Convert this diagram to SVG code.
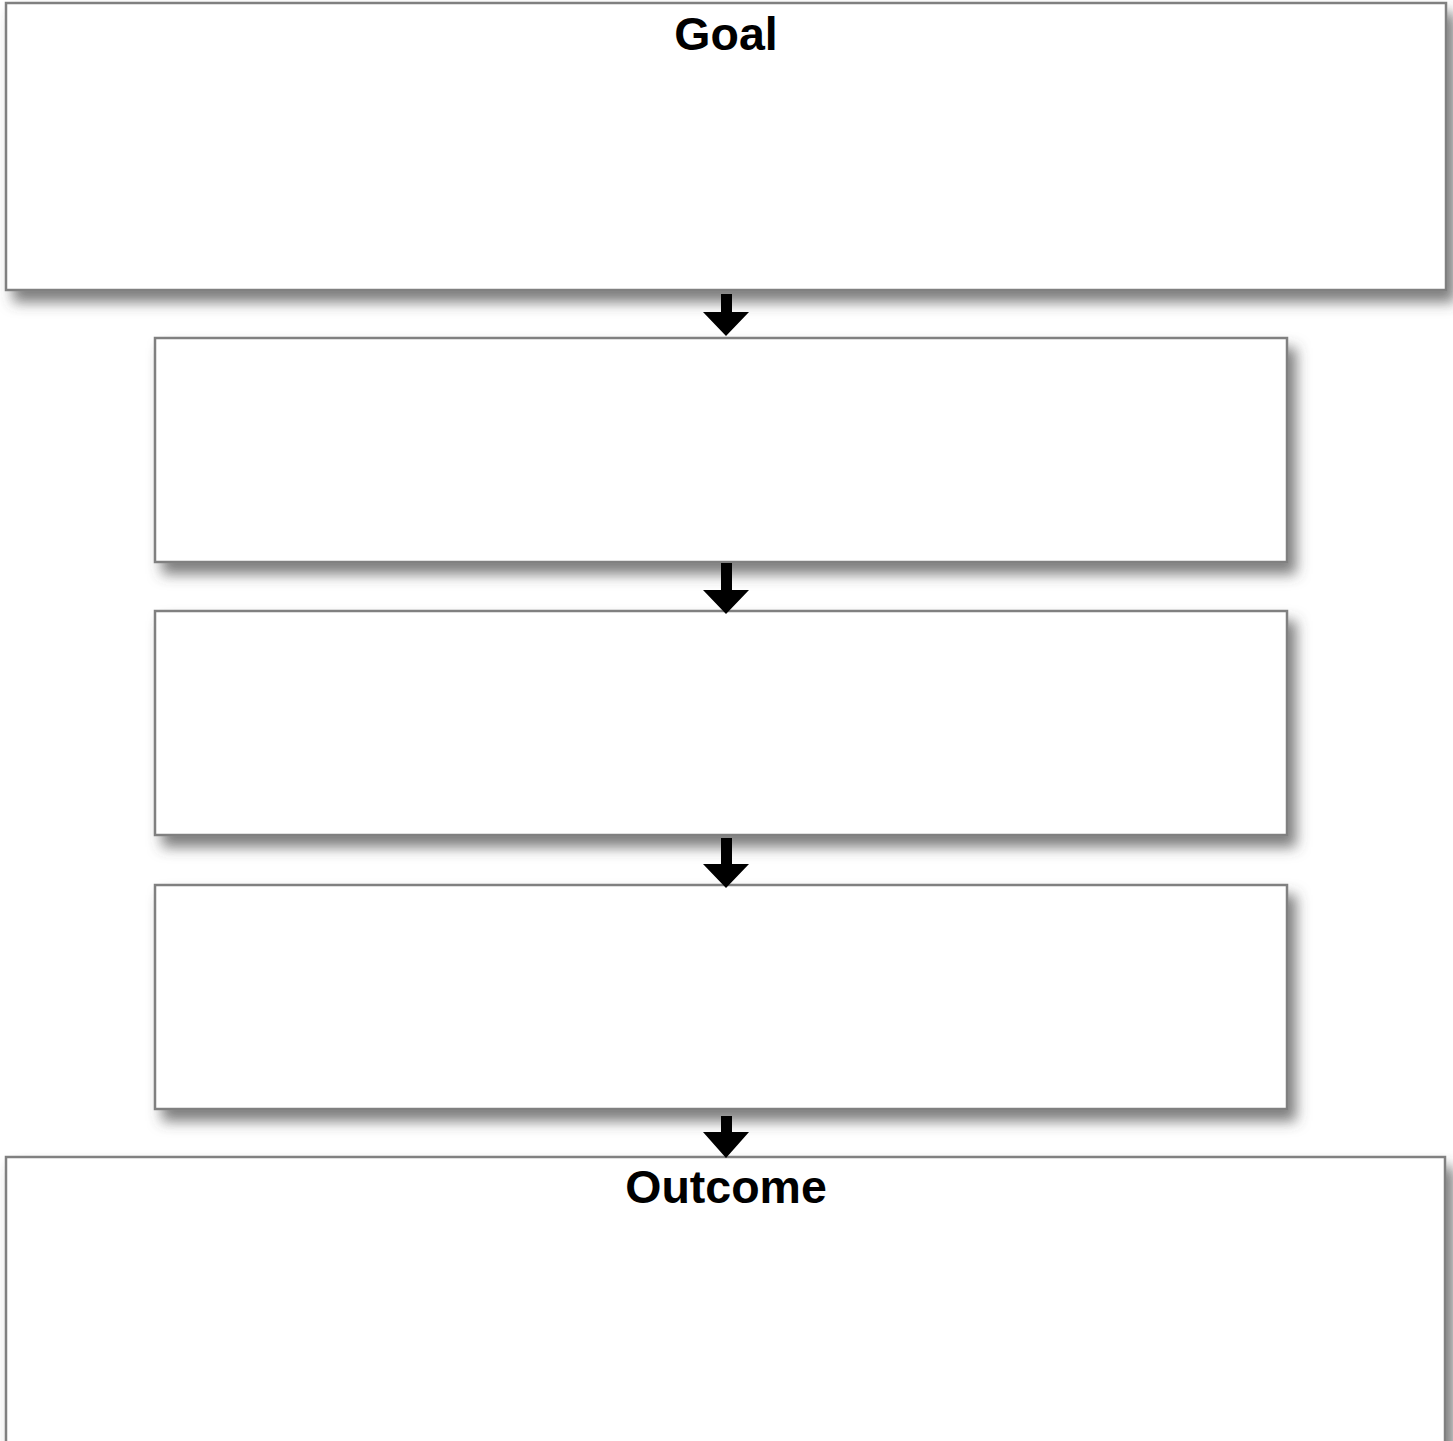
<svg xmlns="http://www.w3.org/2000/svg" width="1453" height="1441" viewBox="0 0 1453 1441">
<style>
.box{fill:#fff;stroke:#808080;stroke-width:2.5;filter:url(#sh)}
.title{font-family:"Liberation Sans",Arial,sans-serif;font-weight:bold;font-size:46.5px;fill:#000;text-anchor:middle}
.arr{fill:#000}
</style>
<defs>
<filter id="sh" x="-5%" y="-10%" width="115%" height="135%">
<feDropShadow dx="8" dy="11" stdDeviation="7" flood-color="#444" flood-opacity="0.7"/>
</filter>
</defs>
<rect width="1453" height="1441" fill="#fff"/>
<g id="goal">
<rect class="box" x="6" y="3" width="1440" height="287"/>
<text class="title" x="726" y="50">Goal</text>
</g>
<g id="step1"><rect class="box" x="155" y="338" width="1132" height="224"/></g>
<g id="step2"><rect class="box" x="155" y="611" width="1132" height="224"/></g>
<g id="step3"><rect class="box" x="155" y="885" width="1132" height="224"/></g>
<g id="outcome">
<rect class="box" x="6" y="1157" width="1439" height="300"/>
<text class="title" x="726" y="1203">Outcome</text>
</g>
<g id="connectors">
<path class="arr" d="M721,294 H732 V312 H749 L726,336 L703,312 H721 Z"/>
<path class="arr" d="M721,563 H732 V590 H749 L726,614 L703,590 H721 Z"/>
<path class="arr" d="M721,838 H732 V864 H749 L726,888 L703,864 H721 Z"/>
<path class="arr" d="M721,1116 H732 V1132 H749 L726,1158 L703,1132 H721 Z"/>
</g>
</svg>
